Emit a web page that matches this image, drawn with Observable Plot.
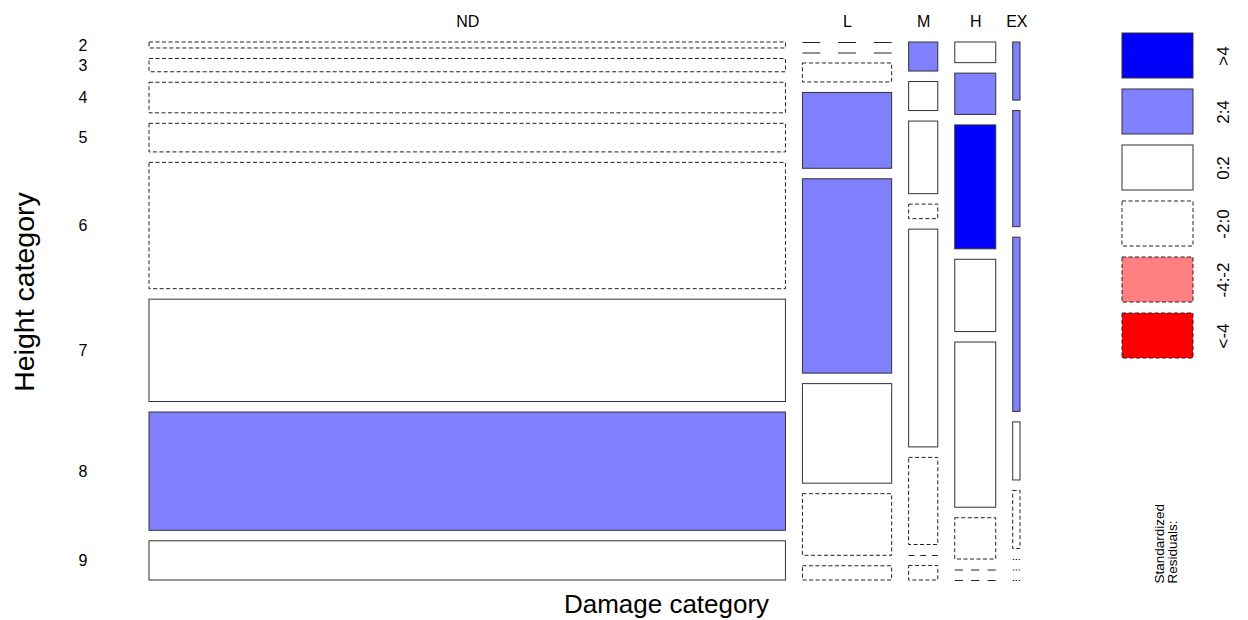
<!DOCTYPE html>
<html><head><meta charset="utf-8">
<script src="https://cdn.jsdelivr.net/npm/d3@7"></script>
<script src="https://cdn.jsdelivr.net/npm/@observablehq/plot@0.6"></script>
<style>
body{margin:0;background:#fff;}
#wrap{position:relative;width:1248px;height:620px;font-family:"Liberation Sans",Arial,sans-serif;}
#wrap svg{position:absolute;top:0;}
</style></head><body><div id="wrap"></div>
<script>
// ---- data ----
const damageCats = ["ND", "L", "M", "H", "EX"];
const heightCats = ["2", "3", "4", "5", "6", "7", "8", "9"];
// counts per damage category, rows = height categories 2..9
const countsND = [9, 20, 46, 43, 190, 154, 178, 59];
const countsL  = [0, 0, 4, 16, 41, 21, 13, 3];
const countsM  = [2, 2, 5, 1, 15, 6, 0, 1];
const countsH  = [2, 4, 12, 7, 16, 4, 0, 0];
const countsEX = [1, 2, 3, 1, 1, 0, 0, 0];
// standardized residual class per cell
const residND = ["-2:0", "-2:0", "-2:0", "-2:0", "-2:0", "0:2", "2:4", "0:2"];
const residL  = ["-2:0", "-2:0", "-2:0", "2:4", "2:4", "0:2", "-2:0", "-2:0"];
const residM  = ["2:4", "0:2", "0:2", "-2:0", "0:2", "-2:0", "-2:0", "-2:0"];
const residH  = ["0:2", "2:4", ">4", "0:2", "0:2", "-2:0", "-2:0", "-2:0"];
const residEX = ["2:4", "2:4", "2:4", "0:2", "-2:0", "-2:0", "-2:0", "-2:0"];
const levels = [">4", "2:4", "0:2", "-2:0", "-4:-2", "<-4"];
const levelColors = ["#0000ff", "#8080ff", "#ffffff", "#ffffff", "#ff8080", "#ff0000"];
const negLevels = ["-2:0", "-4:-2", "<-4"];

// ---- layout ----
const FONT = "Liberation Sans, Arial, sans-serif";
const xRange = [149, 1020];
const yRange = [42, 580];
const gap = 0.0195;
const counts = [countsND, countsL, countsM, countsH, countsEX];
const resid = [residND, residL, residM, residH, residEX];
const N = d3.sum(counts.flat());

const cells = [];
const columns = [];
let x0 = 0;
counts.forEach((col, j) => {
  const n = d3.sum(col);
  const w = (1 - gap * (damageCats.length - 1)) * n / N;
  columns.push({label: damageCats[j], x: x0 + w / 2});
  let y0 = 0;
  col.forEach((c, i) => {
    const h = (1 - gap * (heightCats.length - 1)) * c / n;
    cells.push({damage: damageCats[j], height: heightCats[i], count: c, level: resid[j][i],
      x1: x0, x2: x0 + w, y1: y0, y2: y0 + h, col: j});
    y0 += h + gap;
  });
  x0 += w + gap;
});
const rowLabels = cells.filter(d => d.col === 0).map(d => ({label: d.height, y: (d.y1 + d.y2) / 2}));
const isNeg = d => negLevels.includes(d.level);
const pos = cells.filter(d => d.count > 0 && !isNeg(d));
const neg = cells.filter(d => d.count > 0 && isNeg(d));
const zero = cells.filter(d => d.count === 0);

const colorScale = {type: "ordinal", domain: levels, range: levelColors};

const zeroMarks = zero.map(d => {
  const wpx = (d.x2 - d.x1) * (xRange[1] - xRange[0]);
  return Plot.ruleY([d], {y: "y1", x1: "x1", x2: "x2", stroke: "#222", strokeWidth: 1,
    strokeDasharray: `${wpx / 5},${wpx / 5}`});
});

const main = Plot.plot({
  width: 1248, height: 620, margin: 0,
  style: {fontFamily: FONT, background: "transparent"},
  x: {domain: [0, 1], range: xRange, axis: null},
  y: {domain: [0, 1], range: yRange, axis: null},
  color: colorScale,
  marks: [
    Plot.rect(pos, {x1: "x1", x2: "x2", y1: "y1", y2: "y2", fill: "level", stroke: "#333", strokeWidth: 1}),
    Plot.rect(neg, {x1: "x1", x2: "x2", y1: "y1", y2: "y2", fill: "level", stroke: "#222", strokeWidth: 1, strokeDasharray: "4,2.5"}),
    ...zeroMarks,
    Plot.text(columns, {x: "x", y: () => 0, text: "label", dy: -20.5, fontSize: 16, fill: "#000"}),
    Plot.text(rowLabels, {x: () => 0, y: "y", text: "label", dx: -66.5, dy: 0, fontSize: 16, fill: "#000"}),
    Plot.text(["Damage category"], {frameAnchor: "bottom", textAnchor: "middle", lineAnchor: "middle",
      dx: 42, dy: -16, fontSize: 26, fill: "#000"}),
    Plot.text(["Height category"], {frameAnchor: "left", textAnchor: "middle", lineAnchor: "middle",
      dx: 24.5, dy: -18.5, rotate: -90, fontSize: 28.5, fill: "#000"})
  ]
});
main.style.left = "0px";
document.getElementById("wrap").appendChild(main);

const legend = Plot.plot({
  width: 148, height: 620, margin: 0,
  style: {fontFamily: FONT, background: "transparent"},
  x: {type: "band", domain: ["box"], range: [22, 93], padding: 0, axis: null},
  y: {type: "band", domain: levels, range: [31, 360], paddingInner: 0.2, paddingOuter: 0, axis: null},
  color: colorScale,
  marks: [
    Plot.cell(levels.filter(l => !negLevels.includes(l)), {x: () => "box", y: d => d, fill: d => d, stroke: "#333", strokeWidth: 1}),
    Plot.cell(negLevels, {x: () => "box", y: d => d, fill: d => d, stroke: "#222", strokeWidth: 1, strokeDasharray: "4,2.5"}),
    Plot.text(levels, {x: () => "box", y: d => d, text: d => d, dx: 66, rotate: -90, fontSize: 17, fill: "#000"}),
    Plot.text(["Standardized\nResiduals:"], {frameAnchor: "bottom", dx: -8, dy: -37, rotate: -90,
      textAnchor: "start", lineAnchor: "middle", lineHeight: 0.95, fontSize: 13.5, fill: "#000"})
  ]
});
legend.style.left = "1100px";
document.getElementById("wrap").appendChild(legend);
</script></body></html>
